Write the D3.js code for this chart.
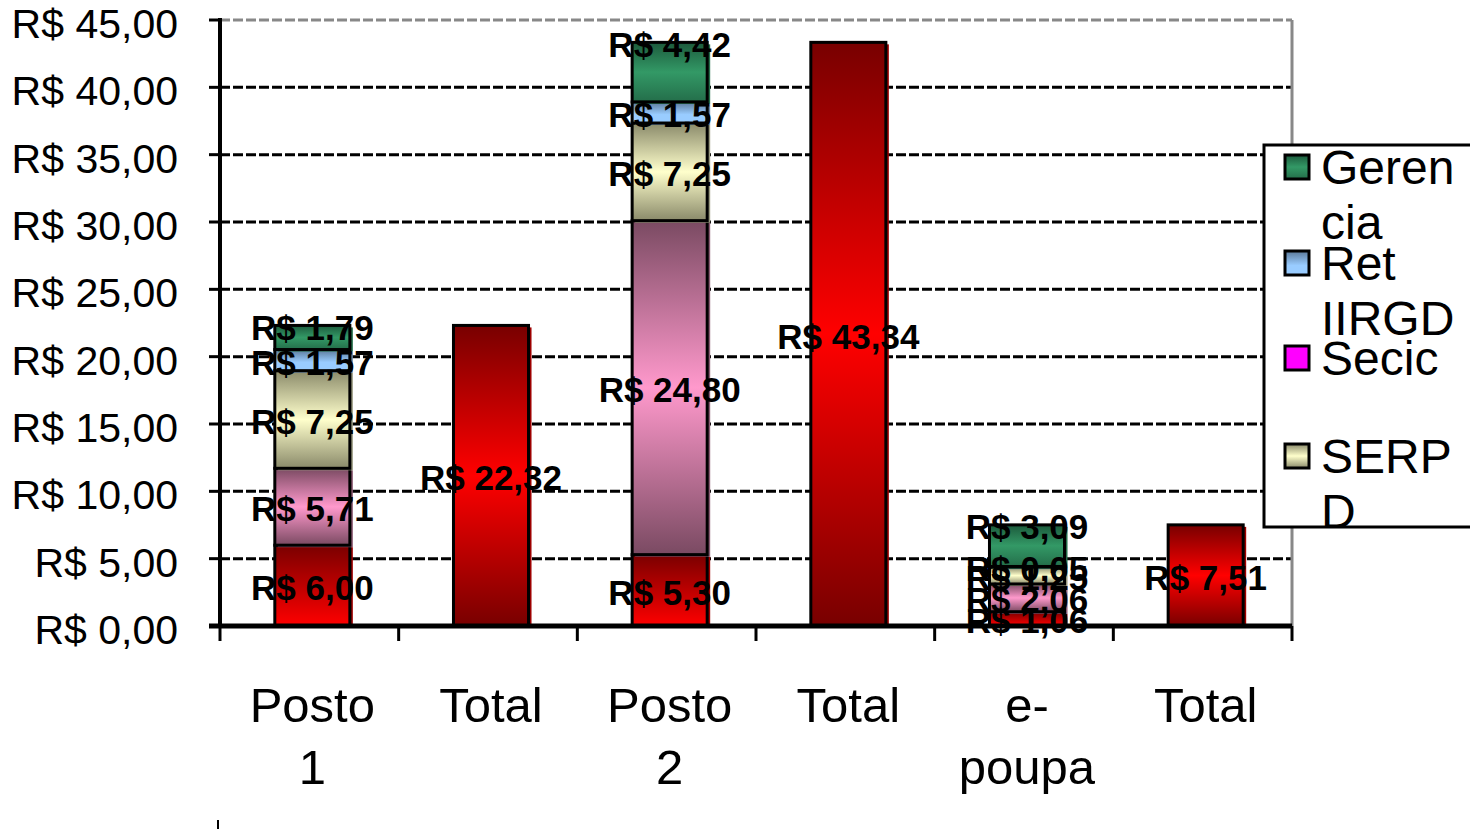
<!DOCTYPE html>
<html><head><meta charset="utf-8">
<script src="https://cdn.jsdelivr.net/npm/d3@7"></script>
<style>
html,body{margin:0;padding:0;background:#fff;}
svg{display:block;font-family:"Liberation Sans",Arial,sans-serif;}
</style></head>
<body>
<svg id="c" width="1470" height="829"></svg>
<script>
const categories = ["Posto 1","Total","Posto 2","Total","e-poupa","Total"];
const categoryLines = [["Posto","1"],["Total"],["Posto","2"],["Total"],["e-","poupa"],["Total"]];
const seriesNames = ["Base","Secic","SERPD","Ret IIRGD","Gerencia"];
const baseValues     = [6.00, 0, 5.30, 0, 1.06, 0];
const secicValues    = [5.71, 0, 24.80, 0, 2.06, 0];
const serpdValues    = [7.25, 0, 7.25, 0, 1.25, 0];
const retValues      = [1.57, 0, 1.57, 0, 0.05, 0];
const gerenciaValues = [1.79, 0, 4.42, 0, 3.09, 0];
const totalValues    = [0, 22.32, 0, 43.34, 0, 7.51];
const yTicks = [0,5,10,15,20,25,30,35,40,45];
const legendItems = [["Geren","cia"],["Ret","IIRGD"],["Secic"],["SERP","D"]];
const legendKeys = ["Gerencia","Ret IIRGD","Secic","SERPD"];

const svg = d3.select("#c");
const defs = svg.append("defs");
function grad(id, stops){
  const g = defs.append("linearGradient").attr("id",id).attr("x1",0).attr("y1",0).attr("x2",0).attr("y2",1);
  stops.forEach(([o,c])=>g.append("stop").attr("offset",o).attr("stop-color",c));
}
grad("gBase",[[0,"#7a0000"],[1,"#ff0000"]]);
grad("gTotal",[[0,"#780000"],[0.5,"#ff0000"],[1,"#780000"]]);
grad("gSecic",[[0,"#7a4a62"],[0.5,"#ff99cc"],[1,"#7a4a62"]]);
grad("gSerpd",[[0,"#8a8a6a"],[0.5,"#ffffcc"],[1,"#8a8a6a"]]);
grad("gRet",[[0,"#5a7898"],[0.6,"#99ccff"],[1,"#99ccff"]]);
grad("gGer",[[0,"#1c5a3c"],[0.5,"#339966"],[1,"#246e4a"]]);
const fills = {"Base":"url(#gBase)","Secic":"url(#gSecic)","SERPD":"url(#gSerpd)","Ret IIRGD":"url(#gRet)","Gerencia":"url(#gGer)"};
const shadows = {"Base":"#a00000","Secic":"#8a5a72","SERPD":"#9a9a80","Ret IIRGD":"#6a88a8","Gerencia":"#246e4a"};
const legendFills = {"Gerencia":"url(#gGer)","Ret IIRGD":"url(#gRet)","Secic":"#ff00ff","SERPD":"url(#gSerpd)"};

const L=220, R=1292, T=20, B=626;
const x = d3.scaleBand().domain(d3.range(categories.length)).range([L+3,R+3]).paddingInner(0.58).paddingOuter(0.29);
const xb = d3.scaleBand().domain(d3.range(categories.length)).range([L,R]);
const y = d3.scaleLinear().domain([0,45]).range([B,T]);
const fmt = v => "R$ " + d3.format(".2f")(v).replace(".",",");

// gridlines
svg.append("g").selectAll("line").data(yTicks.filter(t=>t>0)).join("line")
  .attr("x1",L).attr("x2",R).attr("y1",d=>y(d)).attr("y2",d=>y(d))
  .attr("stroke",d=>d===45?"#888":"#000").attr("stroke-width",3).attr("stroke-dasharray","10,3");
svg.append("line").attr("x1",R).attr("x2",R).attr("y1",T).attr("y2",B).attr("stroke","#888").attr("stroke-width",3);

// stacked data
const rows = categories.map((c,i)=>({i, "Base":baseValues[i], "Secic":secicValues[i], "SERPD":serpdValues[i], "Ret IIRGD":retValues[i], "Gerencia":gerenciaValues[i]}));
const stack = d3.stack().keys(seriesNames)(rows);

const bars = svg.append("g");
stack.forEach(s=>{
  s.forEach(d=>{
    const v = d[1]-d[0];
    if(v<=0) return;
    const i = d.data.i;
    bars.append("rect").attr("x",x(i)+3).attr("y",y(d[1])+2).attr("width",x.bandwidth()).attr("height",Math.max(0,y(d[0])-y(d[1])))
      .attr("fill",shadows[s.key]);
    bars.append("rect").attr("x",x(i)).attr("y",y(d[1])).attr("width",x.bandwidth()).attr("height",Math.max(0,y(d[0])-y(d[1])))
      .attr("fill",fills[s.key]).attr("stroke","#000").attr("stroke-width",3);
  });
});
totalValues.forEach((v,i)=>{
  if(v<=0) return;
  bars.append("rect").attr("x",x(i)+3).attr("y",y(v)+2).attr("width",x.bandwidth()).attr("height",y(0)-y(v)).attr("fill","#a00000");
  bars.append("rect").attr("x",x(i)).attr("y",y(v)).attr("width",x.bandwidth()).attr("height",y(0)-y(v))
    .attr("fill","url(#gTotal)").attr("stroke","#000").attr("stroke-width",3);
});

// axes
svg.append("line").attr("x1",L).attr("x2",L).attr("y1",T-2).attr("y2",B).attr("stroke","#000").attr("stroke-width",4);
svg.append("g").selectAll("line").data(yTicks).join("line")
  .attr("x1",L-11).attr("x2",L).attr("y1",d=>y(d)).attr("y2",d=>y(d)).attr("stroke","#000").attr("stroke-width",3);
svg.append("line").attr("x1",L-11).attr("x2",R).attr("y1",B).attr("y2",B).attr("stroke","#000").attr("stroke-width",5);
const bounds = d3.range(categories.length+1).map(k=> k<categories.length ? xb(k) : R);
svg.append("g").selectAll("line").data(bounds).join("line")
  .attr("x1",d=>d).attr("x2",d=>d).attr("y1",B).attr("y2",B+15).attr("stroke","#000").attr("stroke-width",3);
svg.append("line").attr("x1",218).attr("x2",218).attr("y1",820).attr("y2",829).attr("stroke","#000").attr("stroke-width",2);

// y labels
svg.append("g").selectAll("text").data(yTicks).join("text")
  .attr("x",178).attr("y",d=>y(d)+4).attr("text-anchor","end").attr("dominant-baseline","central")
  .attr("font-size",41).text(d=>"R$ "+d3.format(".2f")(d).replace(".",","));

// x labels
categoryLines.forEach((lines,i)=>{
  const cx = xb(i)+xb.bandwidth()/2+3;
  const t = svg.append("text").attr("x",cx).attr("text-anchor","middle").attr("font-size",49);
  lines.forEach((ln,k)=>t.append("tspan").attr("x",cx).attr("y",722+k*62).text(ln));
});

// data labels
const lab = svg.append("g").attr("font-weight","bold").attr("font-size",35).attr("text-anchor","middle").attr("dominant-baseline","central");
stack.forEach(s=>{
  s.forEach(d=>{
    const v = d[1]-d[0];
    if(v<=0) return;
    const i = d.data.i;
    const yy = s.key==="Gerencia" ? y(d[1]) : y((d[0]+d[1])/2);
    lab.append("text").attr("x",x(i)+x.bandwidth()/2).attr("y",yy+2).text(fmt(v));
  });
});
totalValues.forEach((v,i)=>{
  if(v<=0) return;
  lab.append("text").attr("x",x(i)+x.bandwidth()/2).attr("y",y(v/2)+2).text(fmt(v));
});

// legend
const lg = svg.append("g");
lg.append("rect").attr("x",1264).attr("y",145).attr("width",220).attr("height",382).attr("fill","#fff").attr("stroke","#000").attr("stroke-width",3);
const legY = [167,263,358,456];
legendKeys.forEach((k,j)=>{
  lg.append("rect").attr("x",1285).attr("y",legY[j]-12).attr("width",24).attr("height",24)
    .attr("fill",legendFills[k]).attr("stroke","#000").attr("stroke-width",3);
  const t = lg.append("text").attr("font-size",48).attr("dominant-baseline","central");
  legendItems[j].forEach((ln,m)=>t.append("tspan").attr("x",1321).attr("y",legY[j]+m*55).text(ln));
});
</script>
</body></html>
